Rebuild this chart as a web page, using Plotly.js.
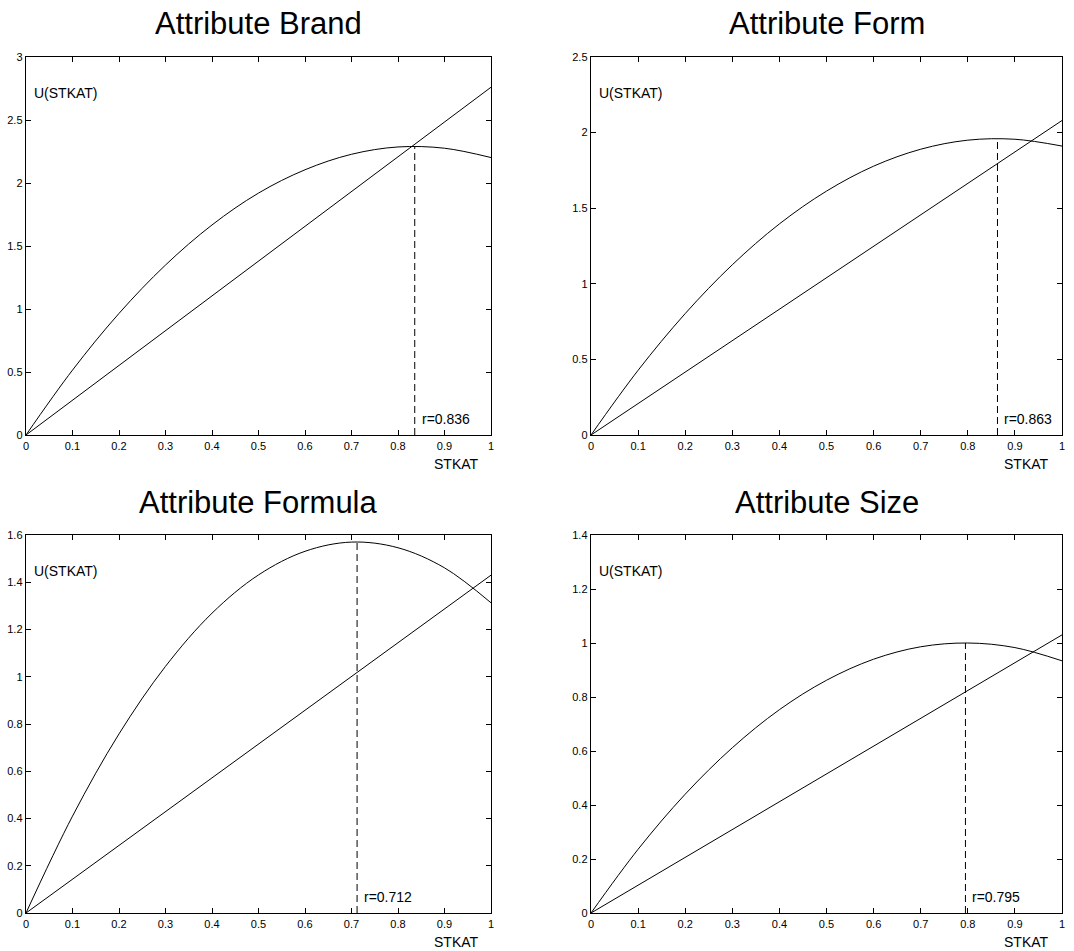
<!DOCTYPE html>
<html>
<head>
<meta charset="utf-8">
<script src="https://cdn.plot.ly/plotly-3.0.1.min.js"></script>
<style>
  html, body { margin: 0; padding: 0; background: #ffffff; }
  #chart { width: 1074px; height: 951px; }
</style>
</head>
<body>
<div id="chart"></div>
<script>
// ---- Data ----
const panelTitles = ['Attribute Brand', 'Attribute Form', 'Attribute Formula', 'Attribute Size'];
const rValues = [0.836, 0.863, 0.712, 0.795];          // optimum STKAT (dashed line)
const peakValues = [2.29, 1.96, 1.57, 1.00];           // U at the optimum
const lineEndValues = [2.76, 2.08, 1.43, 1.03];        // straight line value at STKAT = 1

const stkat = [0, 0.1, 0.2, 0.3, 0.4, 0.5, 0.6, 0.7, 0.8, 0.9, 1.0];
const brandU   = [0, 0.515, 0.965, 1.349, 1.667, 1.920, 2.105, 2.228, 2.286, 2.276, 2.202];
const formU    = [0, 0.428, 0.803, 1.126, 1.396, 1.613, 1.778, 1.890, 1.950, 1.956, 1.911];
const formulaU = [0, 0.410, 0.758, 1.044, 1.269, 1.431, 1.531, 1.570, 1.546, 1.461, 1.313];
const sizeU    = [0, 0.236, 0.440, 0.612, 0.753, 0.862, 0.940, 0.986, 1.000, 0.983, 0.934];

const curvesU = [brandU, formU, formulaU, sizeU];

const yRangeMax = [3, 2.5, 1.6, 1.4];
const yTickStep = [0.5, 0.5, 0.2, 0.2];
const xTickStep = 0.1;

// ---- Layout geometry (pixels of a 1074x951 page) ----
const W = 1074, H = 951;
const xDomPx = [[26, 491], [591, 1062], [26, 491], [591, 1062]];
const yDomPx = [[57, 435], [57, 435], [535, 913], [535, 913]];

const SANS = 'Liberation Sans, Arial, sans-serif';
const traces = [];
const annotations = [];
const layout = {
  width: W, height: H,
  margin: {l: 0, r: 0, t: 0, b: 0},
  paper_bgcolor: '#ffffff',
  plot_bgcolor: '#ffffff',
  showlegend: false,
  font: {family: SANS, color: '#000', size: 11},
  annotations: annotations
};

for (let i = 0; i < 4; i++) {
  const sfx = i === 0 ? '' : String(i + 1);
  const xa = 'x' + sfx, ya = 'y' + sfx;

  // concave utility curve
  traces.push({
    x: stkat, y: curvesU[i], xaxis: xa, yaxis: ya,
    type: 'scatter', mode: 'lines',
    line: {color: '#000', width: 1, shape: 'spline', smoothing: 1},
    hoverinfo: 'skip'
  });
  // straight line from origin
  traces.push({
    x: [0, 1], y: [0, lineEndValues[i]], xaxis: xa, yaxis: ya,
    type: 'scatter', mode: 'lines',
    line: {color: '#000', width: 1},
    hoverinfo: 'skip'
  });
  // dashed vertical line at optimum
  traces.push({
    x: [rValues[i], rValues[i]], y: [0, peakValues[i]], xaxis: xa, yaxis: ya,
    type: 'scatter', mode: 'lines',
    line: {color: '#000', width: 1, dash: '7px,4px'},
    hoverinfo: 'skip'
  });

  const axCommon = {
    showline: true, linecolor: '#000', linewidth: 1.3, mirror: 'ticks',
    ticks: 'inside', ticklen: 5, tickwidth: 1, tickcolor: '#000',
    showgrid: false, zeroline: false, automargin: false,
    tickfont: {family: SANS, size: 11, color: '#000'},
    fixedrange: true
  };
  layout['xaxis' + sfx] = Object.assign({}, axCommon, {
    domain: [xDomPx[i][0] / W, xDomPx[i][1] / W],
    range: [0, 1], tick0: 0, dtick: xTickStep,
    anchor: ya, ticklabelstandoff: 0
  });
  layout['yaxis' + sfx] = Object.assign({}, axCommon, {
    domain: [1 - yDomPx[i][1] / H, 1 - yDomPx[i][0] / H],
    range: [0, yRangeMax[i]], tick0: 0, dtick: yTickStep[i],
    anchor: xa, ticklabelstandoff: 0
  });

  const plotH = yDomPx[i][1] - yDomPx[i][0];

  // panel title
  annotations.push({
    text: panelTitles[i], xref: 'paper', yref: 'paper',
    x: (xDomPx[i][0] + xDomPx[i][1]) / 2 / W,
    y: 1 - (yDomPx[i][0] - 33) / H,
    xanchor: 'center', yanchor: 'middle', showarrow: false,
    font: {family: SANS, size: 31, color: '#000'}
  });
  // y label inside the plot
  annotations.push({
    text: 'U(STKAT)', xref: xa + ' domain', yref: ya + ' domain',
    x: 0.013, y: 1 - 36 / plotH, xanchor: 'left', yanchor: 'middle', showarrow: false,
    font: {family: SANS, size: 14, color: '#000'}
  });
  // x label under the axis
  annotations.push({
    text: 'STKAT', xref: xa + ' domain', yref: ya + ' domain',
    x: 0.925, y: -29 / plotH, xanchor: 'center', yanchor: 'middle', showarrow: false,
    font: {family: SANS, size: 14, color: '#000'}
  });
  // r value label
  annotations.push({
    text: 'r=' + rValues[i].toFixed(3), xref: xa, yref: ya + ' domain',
    x: rValues[i], xshift: 5, y: 16 / plotH, xanchor: 'left', yanchor: 'middle', showarrow: false,
    font: {family: SANS, size: 14, color: '#000'}
  });
}

Plotly.newPlot('chart', traces, layout, {staticPlot: true, displayModeBar: false});
</script>
</body>
</html>
